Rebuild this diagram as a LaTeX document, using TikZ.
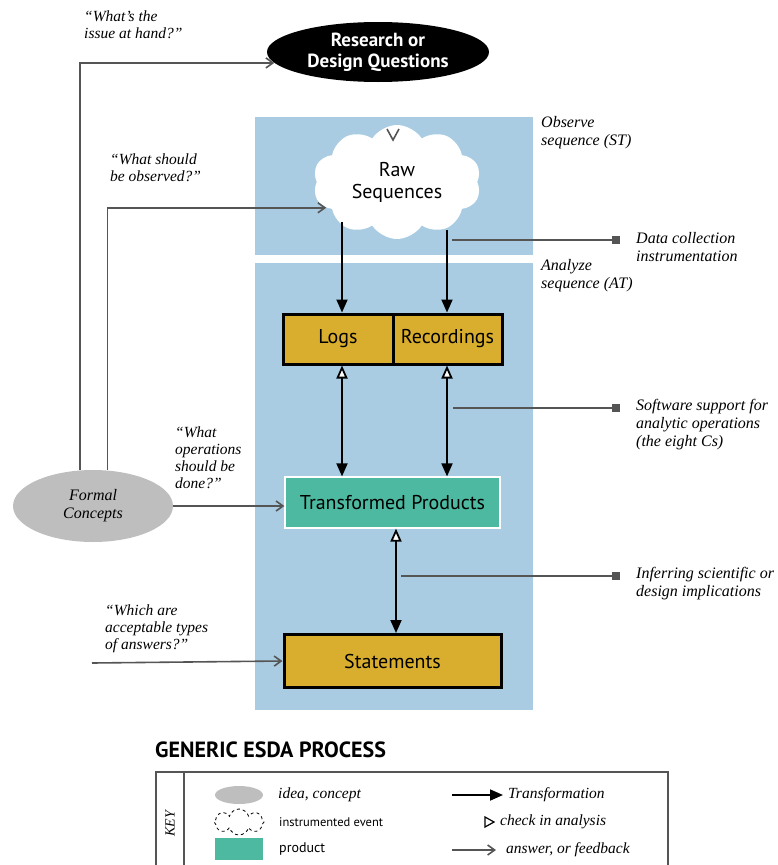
\documentclass[tikz,border=0pt]{standalone}
\usepackage{fontspec}
\setmainfont{Liberation Serif}
\setsansfont{PT Sans}
\usetikzlibrary{arrows.meta,shapes.geometric,shapes.symbols,positioning}
\definecolor{seqblue}{HTML}{A9CCE2}
\definecolor{prodgold}{HTML}{D9AE2E}
\definecolor{prodteal}{HTML}{4DB9A0}
\definecolor{ideagray}{HTML}{BEBEBE}
\definecolor{wire}{HTML}{555555}

\begin{document}
\begin{tikzpicture}[x=1pt,y=-1pt,
  quote/.style={font=\fontsize{15.5}{17}\selectfont\itshape,align=left,inner sep=0pt,anchor=north west},
  note/.style={font=\fontsize{16}{18}\selectfont\itshape,align=left,inner sep=0pt,anchor=north west},
  keytext/.style={anchor=west,inner sep=0pt,font=\fontsize{15.5}{17}\selectfont\itshape},
  goldbox/.style={draw=black,line width=3pt,fill=prodgold,minimum height=50pt,inner sep=0pt,font=\sffamily\fontsize{20}{22}\selectfont},
  trans/.style={-{Triangle[length=13pt,width=11pt]},line width=1.8pt},
  check/.style={{Triangle[open,fill=white,length=13pt,width=11pt]}-{Triangle[length=13pt,width=11pt]},line width=1.8pt},
  ask/.style={-{Straight Barb[length=7pt,width=10pt]},line width=1.6pt,draw=wire},
  pin/.style={-{Square[length=8pt,width=8pt]},line width=1.6pt,draw=wire}]
\useasboundingbox (0,0) rectangle (777,865);
% sequence panels
\fill[seqblue] (255,117) rectangle (533,255);
\fill[seqblue] (255,263) rectangle (533,710);
\node[note] (obs) at (541,116) {Observe\\sequence (ST)};
\node[note] (ana) at (541,259) {Analyze\\sequence (AT)};
% main nodes
\node[ellipse,fill=black,text=white,minimum width=222pt,minimum height=60pt,inner sep=0pt,align=center,
  font=\sffamily\bfseries\fontsize{19}{21}\selectfont] (rq) at (378,52) {Research or\\Design Questions};
\node[cloud,cloud puffs=10,cloud puff arc=115,aspect=1.5,fill=white,minimum width=168pt,minimum height=114pt,
  inner sep=0pt,align=center,font=\sffamily\fontsize{20}{22}\selectfont] (raw) at (397,182) {Raw\\Sequences};
\draw[line width=1.6pt,wire] (387,129) -- (393,140) -- (399,129);
\node[goldbox,minimum width=110pt] (logs) at (338,339) {Logs};
\node[goldbox,minimum width=109pt] (recs) at (447.5,339) {Recordings};
\node[draw=white,line width=1.2pt,fill=prodteal,minimum width=215pt,minimum height=51pt,
  font=\sffamily\fontsize{20}{22}\selectfont] (trp) at (392.5,502.5) {Transformed Products};
\node[goldbox,minimum width=217pt,minimum height=53pt] (stm) at (392.5,661) {Statements};
\node[ellipse,fill=ideagray,minimum width=160pt,minimum height=72pt,inner sep=0pt,align=center,
  font=\fontsize{16}{18}\selectfont\itshape] (fc) at (93,506) {Formal\\Concepts};
% transformations
\coordinate (c1) at (342,222);
\coordinate (c2) at (447,230);
\coordinate (c3) at (396,540);
\draw[trans] (c1) -- (c1 |- logs.north);
\draw[trans] (c2) -- (c2 |- recs.north);
\draw[check] (c1 |- logs.south) -- (c1 |- trp.north);
\draw[check] (c2 |- recs.south) -- (c2 |- trp.north);
\draw[check] (c3 |- trp.south) -- (c3 |- stm.north);
% questions from the formal concepts
\draw[ask] (fc.110) |- (rq.186);
\draw[ask] (fc.68) |- (raw.200);
\draw[ask] (fc.east) -- (fc.east -| trp.west);
\coordinate (s0) at (92,663);
\draw[ask] (s0) -- (stm.west);
\node[quote] (q1) at (84,11) {“What’s the\\issue at hand?”};
\node[quote] (q2) at (110,154) {“What should\\be observed?”};
\node[quote] (q3) at (175,427) {“What\\operations\\should be\\done?”};
\node[quote] (q4) at (105,605) {“Which are\\acceptable types\\of answers?”};
% side notes
\coordinate (p1) at (452,240);
\coordinate (d1) at (620,240);
\draw[pin] (p1) -- (d1);
\node[note] (dcol) at (636,232) {Data collection\\instrumentation};
\coordinate (p2) at (453,408);
\coordinate (d2) at (620,408);
\draw[pin] (p2) -- (d2);
\node[note] (soft) at (636,399) {Software support for\\analytic operations\\(the eight Cs)};
\coordinate (p3) at (401,576);
\coordinate (d3) at (620,576);
\draw[pin] (p3) -- (d3);
\node[note] (infer) at (636,567) {Inferring scientific or\\design implications};
% legend
\node[anchor=west,inner sep=0pt,font=\sffamily\bfseries\fontsize{22}{24}\selectfont] (ttl) at (155,750) {GENERIC ESDA PROCESS};
\draw[line width=2pt,wire] (156,865) -- (156,772) -- (668,772) -- (668,865);
\draw[line width=2pt,wire] (184,772) -- (184,865);
\node[rotate=90,font=\fontsize{14}{16}\selectfont\itshape] (key) at (170,824) {KEY};
\node[ellipse,fill=ideagray,minimum width=48pt,minimum height=18pt,inner sep=0pt] (kidea) at (239,795) {};
\node[cloud,cloud puffs=8,draw=black,dashed,thick,minimum width=50pt,minimum height=26pt,inner sep=0pt] (kev) at (239,822) {};
\node[fill=prodteal,minimum width=48pt,minimum height=22pt,inner sep=0pt] (kprod) at (239,849) {};
\node[keytext] (tidea) at (278,795) {idea, concept};
\node[anchor=west,inner sep=0pt,font=\sffamily\fontsize{12.5}{14}\selectfont] (tev) at (279,822) {instrumented event};
\node[anchor=west,inner sep=0pt,font=\sffamily\fontsize{14}{16}\selectfont] (tprod) at (279,849) {product};
\coordinate (l1) at (452,795);
\coordinate (l1e) at (503,795);
\draw[trans] (l1) -- (l1e);
\node[keytext] (ttr) at (508,795) {Transformation};
\draw[line width=1.2pt,fill=white] (485,817) -- (494,822) -- (485,827) -- cycle;
\node[keytext] (tchk) at (500,822) {check in analysis};
\coordinate (l3) at (452,850);
\coordinate (l3e) at (496,850);
\draw[ask] (l3) -- (l3e);
\node[keytext] (tans) at (506,850) {answer, or feedback};
\end{tikzpicture}
\end{document}
